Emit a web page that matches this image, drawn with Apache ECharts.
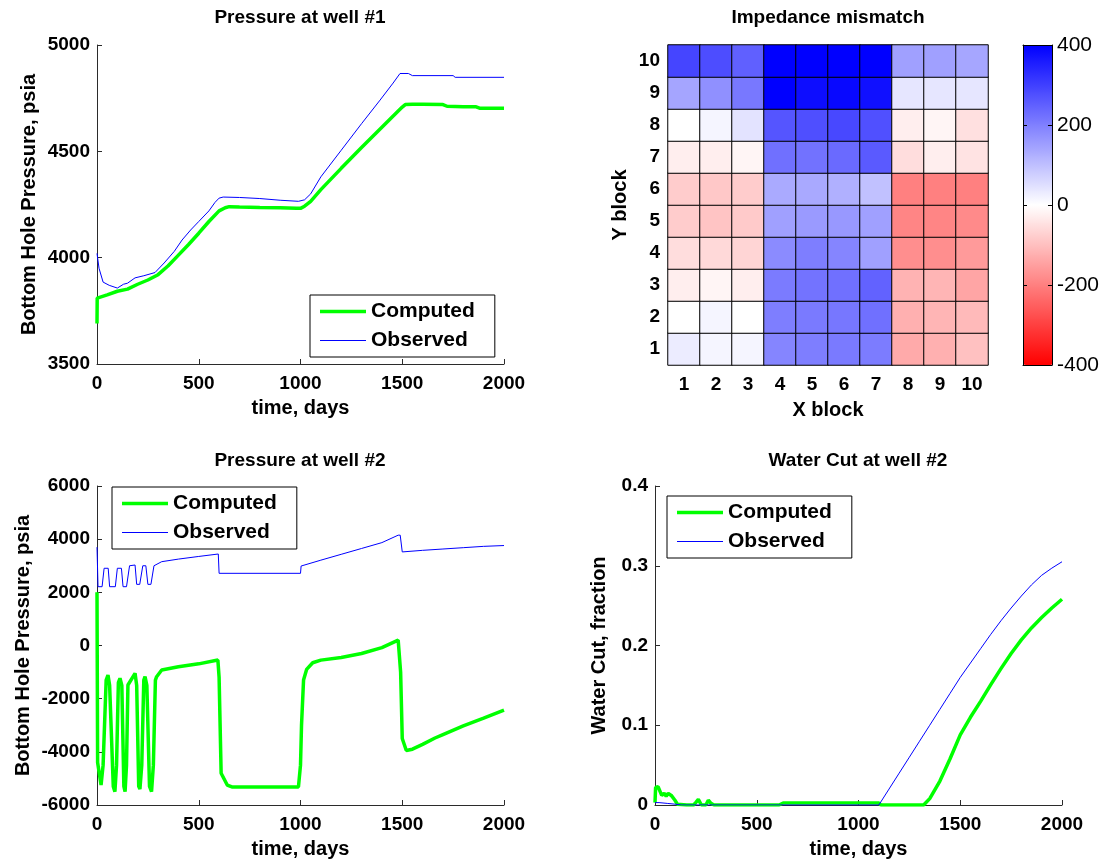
<!DOCTYPE html>
<html><head><meta charset="utf-8">
<script src="https://cdn.jsdelivr.net/npm/echarts@6/dist/echarts.min.js"></script>
<style>html,body{margin:0;padding:0;background:#fff}#c{width:1102px;height:865px}</style>
</head><body><div id="c"></div>
<script>
// ---------- DATA ----------
const seriesNames = ['Computed', 'Observed'];

// Pressure at well #1
const w1CompT = [0,1,50,100,150,200,250,300,350,400,450,500,550,600,630,650,700,800,900,980,1000,1020,1050,1100,1200,1300,1400,1500,1515,1550,1600,1700,1720,1800,1860,1880,2000];
const w1CompV = [3690,3810,3825,3842,3852,3875,3895,3920,3962,4012,4062,4115,4170,4220,4235,4240,4238,4236,4235,4232,4232,4242,4265,4320,4420,4518,4613,4708,4720,4721,4721,4720,4712,4710,4710,4703,4703];
const w1ObsT = [0,10,30,60,100,130,150,187,230,285,330,380,418,460,500,550,580,600,620,700,800,900,990,1020,1050,1100,1200,1300,1391,1455,1489,1530,1550,1750,1760,2000];
const w1ObsV = [4020,3950,3885,3870,3857,3875,3880,3905,3915,3930,3975,4030,4083,4130,4170,4220,4260,4280,4285,4283,4278,4270,4265,4272,4300,4380,4505,4630,4741,4821,4866,4866,4856,4856,4848,4848];

// Impedance mismatch, rows y = 1..10 (bottom to top), columns x = 1..10
const blockLabels = ['1','2','3','4','5','6','7','8','9','10'];
const impedance = [
  [  30,  16,  16, 191, 202, 208, 205, -133, -124,  -98],
  [   0,  16,   0, 202, 208, 213, 224, -124, -116, -108],
  [ -27, -16, -27, 207, 219, 224, 246, -120, -116, -141],
  [ -53, -60, -66, 182, 202, 191, 149, -177, -177, -158],
  [ -80, -92, -83, 149, 158, 162, 149, -191, -191, -183],
  [ -80, -86, -80, 133, 135, 124,  98, -199, -199, -199],
  [ -27, -27, -16, 224, 221, 233, 259,  -53,  -27,  -44],
  [   0,  16,  44, 267, 276, 287, 274,  -27,  -16,  -49],
  [ 141, 174, 212, 400, 380, 388, 375,   39,   39,   39],
  [ 292, 280, 250, 400, 400, 400, 400,  149,  149,  140]
];
const colorbarTicks = [-400, -200, 0, 200, 400];

// Pressure at well #2
const w2CompT = [0,3,20,30,45,54,62,80,88,96,105,113,122,132,138,145,152,187,195,205,211,220,230,236,245,258,268,277,287,293,318,400,500,594,600,610,640,663,990,1000,1005,1015,1030,1060,1100,1200,1300,1400,1480,1489,1492,1500,1520,1550,1600,1661,1700,1800,1900,2000];
const w2CompV = [2000,-4400,-5250,-4500,-1300,-1110,-1500,-5300,-5500,-4500,-1400,-1234,-1500,-5300,-5500,-4500,-1486,-1046,-1500,-5300,-5400,-4500,-1300,-1174,-1500,-5300,-5500,-4500,-1300,-1174,-922,-800,-690,-546,-1200,-4807,-5250,-5320,-5320,-4500,-3000,-1300,-900,-650,-550,-450,-300,-80,200,230,-1000,-3500,-3950,-3900,-3720,-3480,-3350,-3020,-2730,-2430];
const w2ObsT = [0,5,25,35,55,62,90,100,120,128,145,160,187,195,210,225,240,250,265,280,318,400,500,596,600,1000,1003,1100,1200,1300,1400,1480,1490,1500,1600,1700,1800,1900,2000];
const w2ObsV = [3700,2212,2212,2905,2905,2212,2212,2905,2905,2212,2212,3000,3028,2300,2300,3000,3000,2300,2300,3000,3153,3250,3350,3442,2715,2715,2990,3210,3430,3650,3870,4150,4150,3520,3580,3630,3680,3730,3760];

// Water cut at well #2
const wcCompT = [0,3,15,33,45,55,65,80,98,110,156,190,200,213,228,250,262,275,290,610,630,1100,1110,1320,1350,1400,1450,1500,1550,1600,1650,1700,1750,1800,1850,1900,1950,2000];
const wcCompV = [0.003,0.022,0.023,0.012,0.0146,0.011,0.0146,0.012,0.006,0.001,0,0,0.003,0.007,0,0,0.006,0.002,0,0,0.0025,0.0025,0,0,0.008,0.03,0.058,0.088,0.11,0.13,0.151,0.171,0.19,0.207,0.222,0.235,0.247,0.258];
const wcObsT = [0,20,60,100,130,1100,1150,1200,1250,1300,1350,1400,1450,1500,1550,1600,1650,1700,1750,1800,1850,1900,1950,2000];
const wcObsV = [0.003,0.003,0.002,0.001,0,0,0.02,0.04,0.06,0.08,0.1,0.12,0.14,0.16,0.178,0.196,0.214,0.231,0.247,0.262,0.276,0.288,0.297,0.305];

// ---------- BUILD ----------
const zip = (a, b) => a.map((x, i) => [x, b[i]]);
const heatData = [];
impedance.forEach((row, yi) => row.forEach((v, xi) => heatData.push([xi, yi, v])));

const FONT = 'Liberation Sans';
const GREEN = '#00ff00', BLUE = '#0000ff', AX = '#2b2b2b';
const tickFont = {fontFamily: FONT, fontWeight: 'bold', fontSize: 19, color: '#000'};
const nameFont = {fontFamily: FONT, fontWeight: 'bold', fontSize: 20, color: '#000'};
const plain = v => String(v);

function valX(grid, name) {
  return {type: 'value', gridIndex: grid, min: 0, max: 2000, interval: 500,
    name: name, nameLocation: 'middle', nameGap: 34, nameTextStyle: nameFont,
    axisLine: {show: true, onZero: false, lineStyle: {color: AX, width: 1}},
    axisTick: {show: true, inside: true, length: 5, lineStyle: {color: AX}},
    axisLabel: Object.assign({margin: 10, formatter: plain}, tickFont), splitLine: {show: false}};
}
function valY(grid, min, max, interval, name, gap, fmt) {
  return {type: 'value', gridIndex: grid, min: min, max: max, interval: interval,
    name: name, nameLocation: 'middle', nameGap: gap, nameTextStyle: nameFont,
    axisLine: {show: true, onZero: false, lineStyle: {color: AX, width: 1}},
    axisTick: {show: true, inside: true, length: 5, lineStyle: {color: AX}},
    axisLabel: Object.assign({margin: 7, formatter: fmt || plain}, tickFont), splitLine: {show: false}};
}
function lineSeries(name, data, xi, yi, color, width) {
  return {type: 'line', name: name, data: data, xAxisIndex: xi, yAxisIndex: yi,
    showSymbol: false, symbol: 'none', animation: false,
    lineStyle: {color: color, width: width}, itemStyle: {color: color}};
}
function legendAt(left, top) {
  return {data: [
      {name: seriesNames[0], icon: 'path://M0 0H46V3.5H0Z', itemStyle: {color: GREEN}},
      {name: seriesNames[1], icon: 'path://M0 0H46V1H0Z', itemStyle: {color: BLUE}}],
    orient: 'vertical', left: left, top: top,
    itemWidth: 46, itemHeight: 12, itemGap: 8, padding: [6, 20, 6, 10],
    borderColor: '#000', borderWidth: 1, backgroundColor: '#fff',
    selectedMode: false,
    textStyle: {fontFamily: FONT, fontWeight: 'bold', fontSize: 21, color: '#000'}};
}
function titleAt(text, x, y) {
  return {text: text, left: x, top: y, textAlign: 'center', padding: 0,
    textStyle: {fontFamily: FONT, fontWeight: 'bold', fontSize: 19, color: '#000'}};
}

const option = {
  animation: false,
  backgroundColor: '#fff',
  title: [
    titleAt('Pressure at well #1', 300, 8),
    titleAt('Impedance mismatch', 828, 8),
    titleAt('Pressure at well #2', 300, 451),
    titleAt('Water Cut at well #2', 858, 451)
  ],
  legend: [legendAt(310, 295), legendAt(112, 487), legendAt(667, 496)],
  grid: [
    {left: 97, top: 45, width: 407, height: 319},
    {left: 668, top: 45, width: 320, height: 320},
    {left: 97, top: 486, width: 407, height: 319},
    {left: 655, top: 486, width: 407, height: 319},
    {left: 1023, top: 45, width: 30, height: 320}
  ],
  xAxis: [
    valX(0, 'time, days'),
    {type: 'category', gridIndex: 1, data: blockLabels, name: 'X block', nameLocation: 'middle', nameGap: 35,
      nameTextStyle: nameFont, axisLine: {show: false}, axisTick: {show: false},
      axisLabel: Object.assign({margin: 10}, tickFont)},
    valX(2, 'time, days'),
    valX(3, 'time, days'),
    {type: 'value', gridIndex: 4, min: 0, max: 1, position: 'top', z: 10,
      axisLine: {show: true, onZero: false, lineStyle: {color: '#000'}}, axisTick: {show: false}, axisLabel: {show: false}, splitLine: {show: false}},
    {type: 'value', gridIndex: 4, min: 0, max: 1, position: 'bottom', z: 10,
      axisLine: {show: true, onZero: false, lineStyle: {color: '#000'}}, axisTick: {show: false}, axisLabel: {show: false}, splitLine: {show: false}}
  ],
  yAxis: [
    valY(0, 3500, 5000, 500, 'Bottom Hole Pressure, psia', 58),
    {type: 'category', gridIndex: 1, data: blockLabels, name: 'Y block', nameLocation: 'middle', nameGap: 38,
      nameTextStyle: nameFont, axisLine: {show: false}, axisTick: {show: false},
      axisLabel: Object.assign({margin: 8}, tickFont)},
    valY(2, -6000, 6000, 2000, 'Bottom Hole Pressure, psia', 64),
    valY(3, 0, 0.4, 0.1, 'Water Cut, fraction', 46, v => String(Math.round(v * 10) / 10)),
    {type: 'value', gridIndex: 4, min: -400, max: 400, interval: 200, position: 'right', z: 10,
      axisLine: {show: true, onZero: false, lineStyle: {color: '#000'}},
      axisTick: {show: true, inside: true, length: 4, lineStyle: {color: '#000'}},
      axisLabel: {margin: 5, fontFamily: FONT, fontSize: 21, color: '#000', formatter: plain}, splitLine: {show: false}},
    {type: 'value', gridIndex: 4, min: -400, max: 400, interval: 200, position: 'left', z: 10,
      axisLine: {show: true, onZero: false, lineStyle: {color: '#000'}},
      axisTick: {show: true, inside: true, length: 4, lineStyle: {color: '#000'}},
      axisLabel: {show: false}, splitLine: {show: false}}
  ],
  visualMap: {
    type: 'continuous', min: colorbarTicks[0], max: colorbarTicks[colorbarTicks.length - 1],
    seriesIndex: 2, calculable: false, hoverLink: false, realtime: false,
    orient: 'vertical', left: 1023, top: 45, itemWidth: 30, itemHeight: 320, padding: 0,
    inRange: {color: ['#ff0000', '#ffffff', '#0000ff']}, textStyle: {color: 'rgba(0,0,0,0)'}
  },
  series: [
    lineSeries('Computed', zip(w1CompT, w1CompV), 0, 0, GREEN, 3.5),
    lineSeries('Observed', zip(w1ObsT, w1ObsV), 0, 0, BLUE, 1),
    {type: 'heatmap', name: 'Impedance', data: heatData, xAxisIndex: 1, yAxisIndex: 1,
      itemStyle: {borderColor: '#000', borderWidth: 1}, emphasis: {disabled: true}},
    lineSeries('Computed', zip(w2CompT, w2CompV), 2, 2, GREEN, 3.5),
    lineSeries('Observed', zip(w2ObsT, w2ObsV), 2, 2, BLUE, 1),
    lineSeries('Computed', zip(wcCompT, wcCompV), 3, 3, GREEN, 3.5),
    lineSeries('Observed', zip(wcObsT, wcObsV), 3, 3, BLUE, 1)
  ]
};
const chart = echarts.init(document.getElementById('c'), null, {renderer: 'canvas'});
chart.setOption(option);
</script>
</body></html>
